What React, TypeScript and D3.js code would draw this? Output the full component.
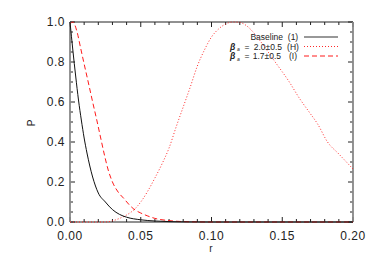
import React from 'react';
import * as d3 from 'd3';

// Baseline (1) – black solid
const rBase = [0, 0.002, 0.004, 0.006, 0.008, 0.010, 0.012, 0.014, 0.016, 0.018, 0.020, 0.025, 0.030, 0.035, 0.040, 0.050, 0.060, 0.070, 0.080, 0.090, 0.100, 0.150, 0.200];
const pBase = [1.0, 0.86, 0.73, 0.61, 0.51, 0.42, 0.345, 0.28, 0.225, 0.18, 0.145, 0.1, 0.062, 0.038, 0.024, 0.011, 0.005, 0.002, 0.0007, 0.0002, 0, 0, 0];

// beta_a = 2.0±0.5 (H) – red dotted
const rH = [0, 0.025, 0.03, 0.035, 0.04, 0.045, 0.05, 0.055, 0.06, 0.065, 0.07, 0.075, 0.08, 0.085, 0.09, 0.095, 0.10, 0.105, 0.11, 0.115, 0.12, 0.125, 0.13, 0.138, 0.145, 0.155, 0.162, 0.169, 0.175, 0.182, 0.19, 0.20];
const pH = [0, 0, 0.006, 0.018, 0.035, 0.06, 0.10, 0.155, 0.22, 0.29, 0.37, 0.475, 0.575, 0.675, 0.78, 0.86, 0.925, 0.965, 0.99, 1.0, 0.998, 0.98, 0.945, 0.87, 0.80, 0.70, 0.62, 0.55, 0.49, 0.40, 0.34, 0.265];

// beta_a = 1.7±0.5 (I) – red dashed
const rI = [0, 0.002, 0.005, 0.0075, 0.010, 0.0135, 0.016, 0.0186, 0.022, 0.0245, 0.027, 0.030, 0.034, 0.038, 0.042, 0.046, 0.050, 0.055, 0.060, 0.070, 0.080, 0.090, 0.100, 0.200];
const pI = [0.99, 1.0, 0.95, 0.87, 0.79, 0.68, 0.60, 0.52, 0.41, 0.33, 0.26, 0.20, 0.15, 0.118, 0.085, 0.06, 0.045, 0.03, 0.018, 0.007, 0.002, 0.0005, 0, 0];

const xTicks = [0, 0.05, 0.10, 0.15, 0.20];
const xTickLabels = ['0.00', '0.05', '0.10', '0.15', '0.20'];
const yTicks = [0, 0.2, 0.4, 0.6, 0.8, 1.0];
const yTickLabels = ['0.0', '0.2', '0.4', '0.6', '0.8', '1.0'];

const W = 374;
const H = 267;
const margin = { top: 22, right: 21, bottom: 45, left: 70 };

export default function App() {
  const x = d3.scaleLinear().domain([0, 0.2]).range([margin.left, W - margin.right]);
  const y = d3.scaleLinear().domain([0, 1]).range([H - margin.bottom, margin.top]);
  const x0 = x(0), x1 = x(0.2), y0 = y(0), y1 = y(1);

  const line = (rs: number[], ps: number[]) =>
    d3.line<number>()
      .x((_, i) => x(rs[i]))
      .y((_, i) => y(ps[i]))
      .curve(d3.curveMonotoneX)(ps) || '';

  const xMinor = d3.range(0, 21).map(i => i * 0.01);
  const yMinor = d3.range(0, 21).map(i => i * 0.05);
  const isMajorX = (v: number) => Math.abs(v * 20 - Math.round(v * 20)) < 1e-6;
  const isMajorY = (v: number) => Math.abs(v * 5 - Math.round(v * 5)) < 1e-6;

  const font = "'Liberation Sans', Arial, sans-serif";
  const tickCol = '#222';

  // legend rows
  const rows = [
    { beta: false, label: 'Baseline', tag: '(1)', y: 40, end: 283, stroke: '#333', dash: undefined as string | undefined, w: 1.2 },
    { beta: true, label: '2.0±0.5', tag: '(H)', y: 49.5, end: 282, stroke: '#ff2a2a', dash: '1,2', w: 1 },
    { beta: true, label: '1.7±0.5', tag: '(I)', y: 59, end: 281, stroke: '#ff1a1a', dash: '5,3', w: 1 },
  ];

  return (
    <svg width={W} height={H} style={{ position: 'absolute', left: 0, top: 0, background: '#fff' }} fontFamily={font}>
      {/* ticks */}
      {xMinor.map((v, i) => {
        const len = isMajorX(v) ? 5 : 3;
        return (
          <g key={'xt' + i} stroke={tickCol} strokeWidth={1}>
            <line x1={x(v)} x2={x(v)} y1={y0} y2={y0 - len} />
            <line x1={x(v)} x2={x(v)} y1={y1} y2={y1 + len} />
          </g>
        );
      })}
      {yMinor.map((v, i) => {
        const len = isMajorY(v) ? 5 : 3;
        return (
          <g key={'yt' + i} stroke={tickCol} strokeWidth={1}>
            <line x1={x0} x2={x0 + len} y1={y(v)} y2={y(v)} />
            <line x1={x1} x2={x1 - len} y1={y(v)} y2={y(v)} />
          </g>
        );
      })}

      {/* frame */}
      <line x1={x0} x2={x1} y1={y1} y2={y1} stroke="#222" strokeWidth={1} />
      <line x1={x0} x2={x1} y1={y0} y2={y0} stroke="#222" strokeWidth={1} />
      <line x1={x0} x2={x0} y1={y1} y2={y0} stroke="#888" strokeWidth={1.8} />
      <line x1={x1} x2={x1} y1={y1} y2={y0} stroke="#888" strokeWidth={1.8} />

      {/* tick labels */}
      {xTicks.map((v, i) => (
        <text key={'xl' + i} x={x(v)} y={240} textAnchor="middle" fontSize={12} letterSpacing={0.5} fill="#222">
          {xTickLabels[i]}
        </text>
      ))}
      {yTicks.map((v, i) => (
        <text key={'yl' + i} x={65} y={y(v)} dy="0.33em" textAnchor="end" fontSize={12} letterSpacing={0.5} fill="#222">
          {yTickLabels[i]}
        </text>
      ))}

      {/* axis titles */}
      <text x={211} y={252} textAnchor="middle" fontSize={10} fill="#222">r</text>
      <text transform="translate(35,123) rotate(-90)" textAnchor="middle" fontSize={10} fill="#222">P</text>

      {/* curves */}
      <path d={line(rH, pH)} fill="none" stroke="#ff2a2a" strokeWidth={1} strokeDasharray="1,2" />
      <path d={line(rI, pI)} fill="none" stroke="#ff1a1a" strokeWidth={1} strokeDasharray="5,3" />
      <path d={line(rBase, pBase)} fill="none" stroke="#111" strokeWidth={1} />

      {/* legend */}
      <g fontSize={8.5} fill="#222">
        {rows.map((row, i) => (
          <g key={'lg' + i}>
            {row.beta && (
              <>
                <text x={230} y={row.y} fontSize={8.5} fontWeight="bold" fontStyle="italic">β</text>
                <text x={237} y={row.y + 1.5} fontSize={5} fontStyle="italic">a</text>
                <text x={244.5} y={row.y}>=</text>
              </>
            )}
            <text x={row.end} y={row.y} textAnchor="end">{row.label}</text>
            <text x={293} y={row.y} textAnchor="middle">{row.tag}</text>
            <line x1={304} x2={338} y1={row.y - 3} y2={row.y - 3} stroke={row.stroke} strokeWidth={row.w} strokeDasharray={row.dash} />
          </g>
        ))}
      </g>
    </svg>
  );
}
